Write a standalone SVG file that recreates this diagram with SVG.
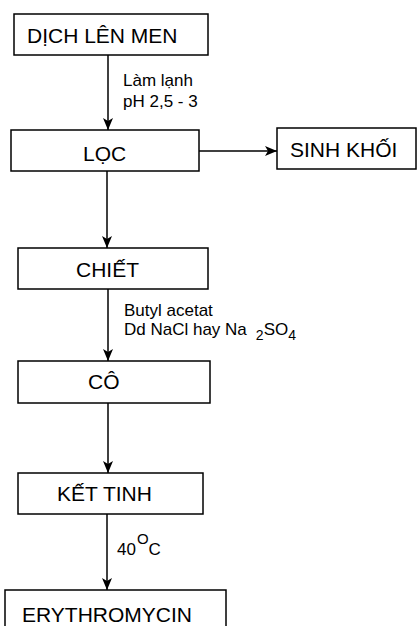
<svg xmlns="http://www.w3.org/2000/svg" width="417" height="626" viewBox="0 0 417 626">
<style>
.box{fill:#fff;stroke:#000;stroke-width:1.5}
.t{font-family:"Liberation Sans",Arial,sans-serif;font-size:21px;fill:#000}
.s{font-family:"Liberation Sans",Arial,sans-serif;font-size:17px;fill:#000}
.c{stroke:#000;stroke-width:1.5;fill:none}
</style>
<defs>
<marker id="ah" markerUnits="userSpaceOnUse" markerWidth="14" markerHeight="12" refX="12" refY="5" orient="auto">
<path d="M0,0 L12,5 L0,10 L3,5 z" fill="#000"/>
</marker>
</defs>
<rect width="417" height="626" fill="#fff"/>
<g id="connectors">
<line class="c" x1="108" y1="55" x2="108" y2="130" marker-end="url(#ah)"/>
<line class="c" x1="199" y1="151" x2="277" y2="151" marker-end="url(#ah)"/>
<line class="c" x1="107" y1="171" x2="107" y2="248" marker-end="url(#ah)"/>
<line class="c" x1="108" y1="289" x2="108" y2="361" marker-end="url(#ah)"/>
<line class="c" x1="108" y1="403" x2="108" y2="473" marker-end="url(#ah)"/>
<line class="c" x1="107" y1="514" x2="107" y2="590" marker-end="url(#ah)"/>
<text class="s" x="123" y="86">Làm lạnh</text>
<text class="s" x="123" y="107">pH 2,5 - 3</text>
<text class="s" x="124" y="316">Butyl acetat</text>
<text class="s" x="124" y="335">Dd NaCl hay Na<tspan dx="9" dy="5" font-size="14">2</tspan><tspan dy="-5">SO</tspan><tspan dy="5" font-size="14">4</tspan></text>
<text class="s" x="117" y="555">40<tspan dx="1" dy="-11" font-size="15">O</tspan><tspan dy="11">C</tspan></text>
</g>
<g id="n1"><rect class="box" x="14" y="14" width="194" height="41"/><text class="t" x="27" y="43">DỊCH LÊN MEN</text></g>
<g id="n2"><rect class="box" x="11" y="130" width="188" height="41"/><text class="t" x="83" y="161">LỌC</text></g>
<g id="n3"><rect class="box" x="277" y="128" width="139" height="41"/><text class="t" x="290" y="157">SINH KHỐI</text></g>
<g id="n4"><rect class="box" x="18" y="248" width="190" height="41"/><text class="t" x="76" y="277">CHIẾT</text></g>
<g id="n5"><rect class="box" x="18" y="361" width="192" height="42"/><text class="t" x="88" y="389">CÔ</text></g>
<g id="n6"><rect class="box" x="18" y="473" width="185" height="41"/><text class="t" x="57" y="501">KẾT TINH</text></g>
<g id="n7"><rect class="box" x="5" y="590" width="221" height="45"/><text class="t" x="22" y="622">ERYTHROMYCIN</text></g>
</svg>
